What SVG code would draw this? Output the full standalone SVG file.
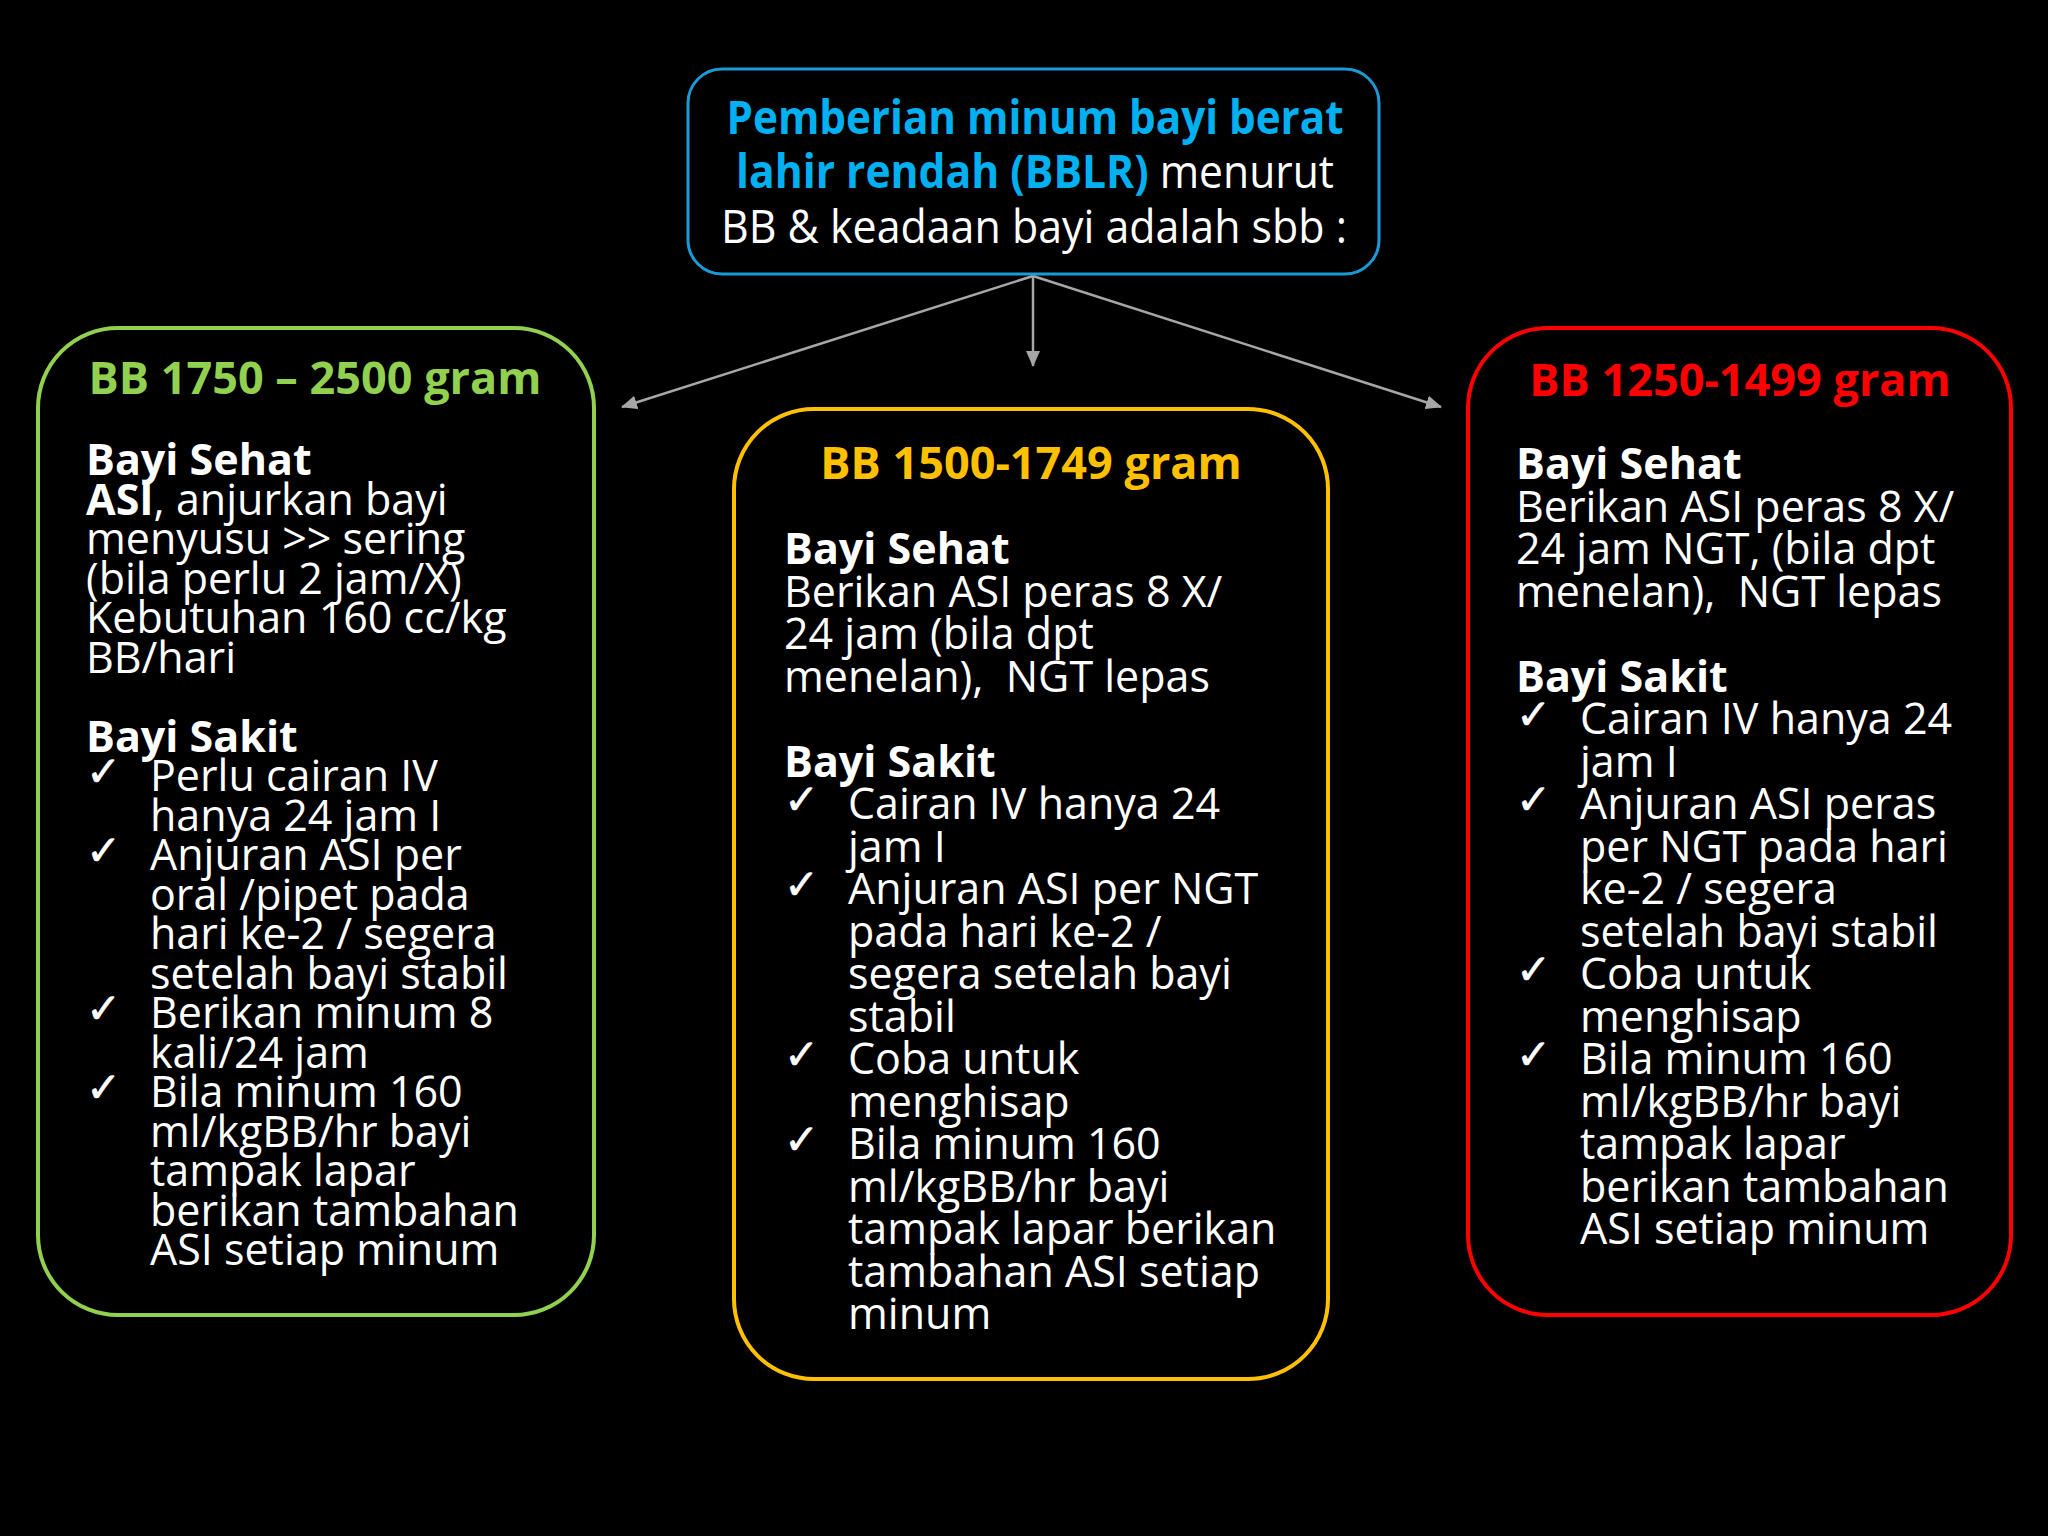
<svg xmlns="http://www.w3.org/2000/svg" width="2048" height="1536" viewBox="0 0 2048 1536">
<defs>
<style>
text{font-family:"Open Sans","Noto Sans",sans-serif;fill:#ffffff}
.b{font-weight:bold}
.title{font-size:46px;text-anchor:middle}
.blue{fill:#00b0f0;font-weight:bold}
.head{font-size:45px;font-weight:bold;text-anchor:middle}
.body{font-size:43px}
.chk{font-family:"DejaVu Sans",sans-serif;font-size:42px;stroke:#ffffff;stroke-width:0.6}
.conn{stroke:#a6a6a6;stroke-width:2.5;fill:none;marker-end:url(#arr)}
</style>
<marker id="arr" markerUnits="userSpaceOnUse" markerWidth="16" markerHeight="14" refX="15" refY="7" orient="auto">
<path d="M0,0 L16,7 L0,14 Z" fill="#a6a6a6"/>
</marker>
</defs>
<rect width="2048" height="1536" fill="#000000"/>

<g id="connectors">
<line class="conn" x1="1033" y1="276" x2="622" y2="407"/>
<line class="conn" x1="1033" y1="276" x2="1033" y2="366"/>
<line class="conn" x1="1033" y1="276" x2="1441" y2="407"/>
</g>

<g id="node-top">
<rect x="688" y="69" width="691" height="205" rx="34" fill="#000" stroke="#1a9bd7" stroke-width="3"/>
<text class="title" x="1035" y="134" textLength="617" lengthAdjust="spacingAndGlyphs"><tspan class="blue">Pemberian minum bayi berat</tspan></text>
<text class="title" x="1035" y="188" textLength="598" lengthAdjust="spacingAndGlyphs"><tspan class="blue">lahir rendah (BBLR)</tspan> menurut</text>
<text class="title" x="1034" y="243" textLength="626" lengthAdjust="spacingAndGlyphs">BB &amp; keadaan bayi adalah sbb :</text>
</g>

<g id="node-left">
<rect x="38" y="328" width="556" height="987" rx="80" fill="#000" stroke="#92d050" stroke-width="4"/>
<text class="head" x="315" y="394" style="fill:#92d050">BB 1750 – 2500 gram</text>
<text class="body">
<tspan class="b" x="86" y="475">Bayi Sehat</tspan>
<tspan x="86" y="514.5"><tspan class="b">ASI</tspan>, anjurkan bayi</tspan>
<tspan x="86" y="554">menyusu &gt;&gt; sering</tspan>
<tspan x="86" y="593.5">(bila perlu 2 jam/X)</tspan>
<tspan x="86" y="633">Kebutuhan 160 cc/kg</tspan>
<tspan x="86" y="672.5">BB/hari</tspan>
<tspan class="b" x="86" y="751.5">Bayi Sakit</tspan>
<tspan x="150" y="791">Perlu cairan IV</tspan>
<tspan x="150" y="830.5">hanya 24 jam I</tspan>
<tspan x="150" y="870">Anjuran ASI per</tspan>
<tspan x="150" y="909.5">oral /pipet pada</tspan>
<tspan x="150" y="949">hari ke-2 / segera</tspan>
<tspan x="150" y="988.5">setelah bayi stabil</tspan>
<tspan x="150" y="1028">Berikan minum 8</tspan>
<tspan x="150" y="1067.5">kali/24 jam</tspan>
<tspan x="150" y="1107">Bila minum 160</tspan>
<tspan x="150" y="1146.5">ml/kgBB/hr bayi</tspan>
<tspan x="150" y="1186">tampak lapar</tspan>
<tspan x="150" y="1225.5">berikan tambahan</tspan>
<tspan x="150" y="1265">ASI setiap minum</tspan>
</text>
<text class="chk" x="86" y="786">✓</text>
<text class="chk" x="86" y="865">✓</text>
<text class="chk" x="86" y="1023">✓</text>
<text class="chk" x="86" y="1102">✓</text>
</g>

<g id="node-middle">
<rect x="734" y="409" width="594" height="970" rx="80" fill="#000" stroke="#ffc000" stroke-width="4"/>
<text class="head" x="1031" y="479" style="fill:#ffc000">BB 1500-1749 gram</text>
<text class="body">
<tspan class="b" x="784" y="564">Bayi Sehat</tspan>
<tspan x="784" y="606.5">Berikan ASI peras 8 X/</tspan>
<tspan x="784" y="649">24 jam (bila dpt</tspan>
<tspan x="784" y="691.5" xml:space="preserve">menelan),  NGT lepas</tspan>
<tspan class="b" x="784" y="776.5">Bayi Sakit</tspan>
<tspan x="848" y="819">Cairan IV hanya 24</tspan>
<tspan x="848" y="861.5">jam I</tspan>
<tspan x="848" y="904">Anjuran ASI per NGT</tspan>
<tspan x="848" y="946.5">pada hari ke-2 /</tspan>
<tspan x="848" y="989">segera setelah bayi</tspan>
<tspan x="848" y="1031.5">stabil</tspan>
<tspan x="848" y="1074">Coba untuk</tspan>
<tspan x="848" y="1116.5">menghisap</tspan>
<tspan x="848" y="1159">Bila minum 160</tspan>
<tspan x="848" y="1201.5">ml/kgBB/hr bayi</tspan>
<tspan x="848" y="1244">tampak lapar berikan</tspan>
<tspan x="848" y="1286.5">tambahan ASI setiap</tspan>
<tspan x="848" y="1329">minum</tspan>
</text>
<text class="chk" x="784" y="814">✓</text>
<text class="chk" x="784" y="899">✓</text>
<text class="chk" x="784" y="1069">✓</text>
<text class="chk" x="784" y="1154">✓</text>
</g>

<g id="node-right">
<rect x="1468" y="328" width="543" height="987" rx="80" fill="#000" stroke="#ff0000" stroke-width="4"/>
<text class="head" x="1740" y="396" style="fill:#ff0000">BB 1250-1499 gram</text>
<text class="body">
<tspan class="b" x="1516" y="479">Bayi Sehat</tspan>
<tspan x="1516" y="521.5">Berikan ASI peras 8 X/</tspan>
<tspan x="1516" y="564">24 jam NGT, (bila dpt</tspan>
<tspan x="1516" y="606.5" xml:space="preserve">menelan),  NGT lepas</tspan>
<tspan class="b" x="1516" y="691.5">Bayi Sakit</tspan>
<tspan x="1580" y="734">Cairan IV hanya 24</tspan>
<tspan x="1580" y="776.5">jam I</tspan>
<tspan x="1580" y="819">Anjuran ASI peras</tspan>
<tspan x="1580" y="861.5">per NGT pada hari</tspan>
<tspan x="1580" y="904">ke-2 / segera</tspan>
<tspan x="1580" y="946.5">setelah bayi stabil</tspan>
<tspan x="1580" y="989">Coba untuk</tspan>
<tspan x="1580" y="1031.5">menghisap</tspan>
<tspan x="1580" y="1074">Bila minum 160</tspan>
<tspan x="1580" y="1116.5">ml/kgBB/hr bayi</tspan>
<tspan x="1580" y="1159">tampak lapar</tspan>
<tspan x="1580" y="1201.5">berikan tambahan</tspan>
<tspan x="1580" y="1244">ASI setiap minum</tspan>
</text>
<text class="chk" x="1516" y="729">✓</text>
<text class="chk" x="1516" y="814">✓</text>
<text class="chk" x="1516" y="984">✓</text>
<text class="chk" x="1516" y="1069">✓</text>
</g>
</svg>
